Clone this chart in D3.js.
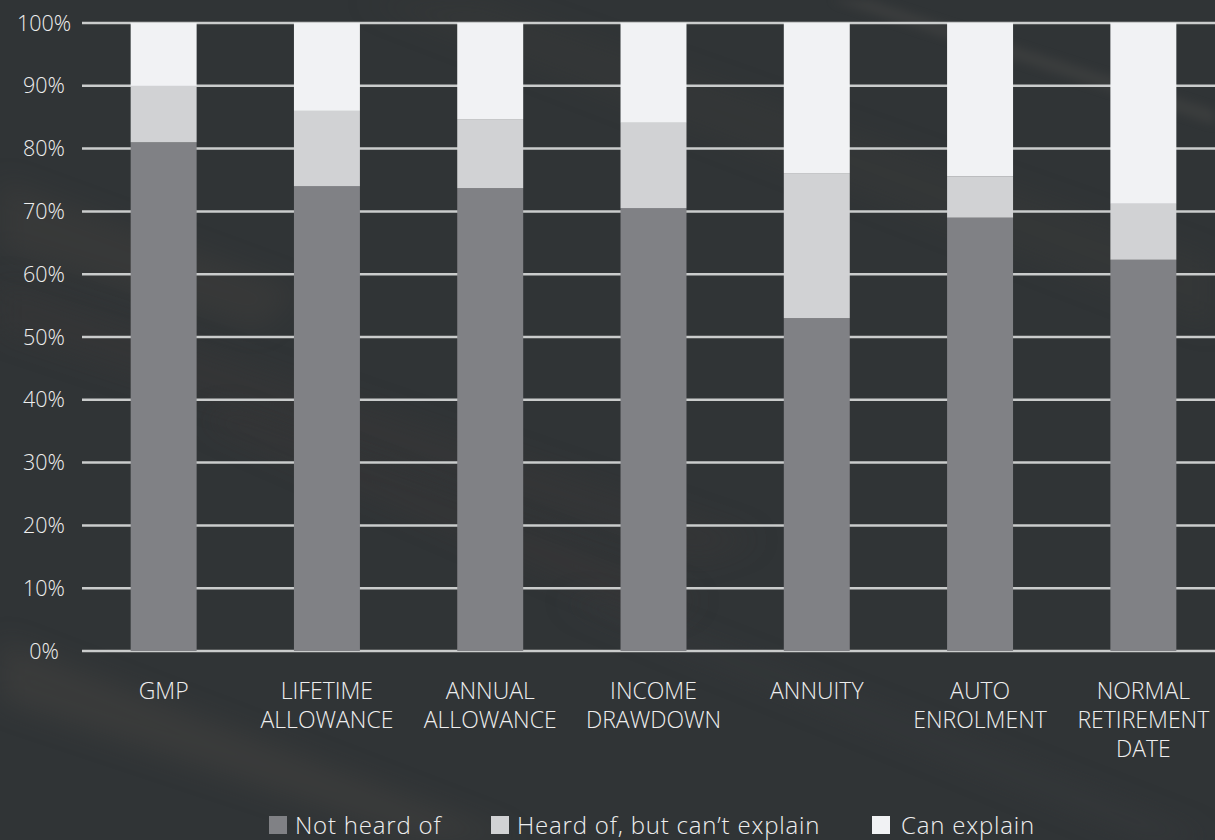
<!DOCTYPE html>
<html>
<head>
<meta charset="utf-8">
<script src="https://cdn.jsdelivr.net/npm/d3@7"></script>
<style>
  html, body { margin: 0; padding: 0; background: #303436; }
  svg { display: block; }
  text { font-family: "Open Sans", Lato, sans-serif; font-weight: 300; fill: #eeeeee; }
</style>
</head>
<body>
<svg id="chart" width="1215" height="840"></svg>
<script>
// Pension terms awareness, share of respondents (%)
const categories = [
  ["GMP"],
  ["LIFETIME", "ALLOWANCE"],
  ["ANNUAL", "ALLOWANCE"],
  ["INCOME", "DRAWDOWN"],
  ["ANNUITY"],
  ["AUTO", "ENROLMENT"],
  ["NORMAL", "RETIREMENT", "DATE"]
];
const notHeardOf       = [81, 74, 73.7, 70.5, 53, 69, 62.3];
const heardCantExplain = [9, 12, 11, 13.6, 23.1, 6.6, 8.9];
const canExplain       = [10, 14, 15.3, 15.9, 23.9, 24.4, 28.8];
const seriesNames = ["Not heard of", "Heard of, but can\u2019t explain", "Can explain"];
const yTicks = [0, 10, 20, 30, 40, 50, 60, 70, 80, 90, 100];

const W = 1215, H = 840;
const colors = ["#808185", "#d1d2d4", "#f1f2f4"];

const svg = d3.select("#chart");
const defs = svg.append("defs");
defs.append("filter").attr("id", "soft").attr("x", "-20%").attr("y", "-50%").attr("width", "140%").attr("height", "200%")
  .append("feGaussianBlur").attr("stdDeviation", 14);
defs.append("filter").attr("id", "soft2").attr("x", "-20%").attr("y", "-50%").attr("width", "140%").attr("height", "200%")
  .append("feGaussianBlur").attr("stdDeviation", 5);

// Background plate with faint diagonal streaks
const bg = svg.append("g");
bg.append("rect").attr("width", W).attr("height", H).attr("fill", "#303436");
const streaks = [
  { pts: [[0,180],[0,250],[260,330],[300,290]], c: "#4a4441", o: 0.3, f: "soft" },
  { pts: [[0,640],[0,700],[420,840],[520,840]], c: "#4d4845", o: 0.35, f: "soft" },
  { pts: [[0,280],[0,330],[700,560],[760,540]], c: "#3b3938", o: 0.4, f: "soft" },
  { pts: [[360,0],[480,0],[1215,260],[1215,330]], c: "#3d3c3b", o: 0.3, f: "soft" },
  { pts: [[830,0],[870,0],[1215,110],[1215,125]], c: "#55524f", o: 0.3, f: "soft2" },
  { pts: [[560,600],[600,600],[1215,840],[1150,840]], c: "#3a3d3f", o: 0.4, f: "soft" },
  { pts: [[200,420],[230,410],[700,600],[660,620]], c: "#3c3837", o: 0.4, f: "soft" }
];
bg.selectAll("path.streak").data(streaks).join("path")
  .attr("class", "streak")
  .attr("d", d => "M" + d.pts.map(p => p.join(",")).join("L") + "Z")
  .attr("fill", d => d.c).attr("opacity", d => d.o)
  .attr("filter", d => `url(#${d.f})`);

// Scales
const x = d3.scaleBand()
  .domain(d3.range(categories.length))
  .range([82, 1225])
  .paddingInner(0.596)
  .paddingOuter(0.298);
const y = d3.scaleLinear().domain([0, 100]).range([651, 23]);

// Gridlines
svg.append("g").selectAll("line").data(yTicks).join("line")
  .attr("x1", 82).attr("x2", W)
  .attr("y1", d => y(d)).attr("y2", d => y(d))
  .attr("stroke", "#cacccc").attr("stroke-width", 2.5);

// Y axis labels
svg.append("g").selectAll("text").data(yTicks).join("text")
  .attr("x", 44).attr("y", d => y(d))
  .attr("dy", "0.35em")
  .attr("text-anchor", "middle")
  .attr("font-size", 21.5)
  .text(d => d + "%");

// Stacked bars
const rows = categories.map((c, i) => ({ i, v0: notHeardOf[i], v1: heardCantExplain[i], v2: canExplain[i] }));
const stack = d3.stack().keys(["v0", "v1", "v2"])(rows);
svg.append("g").selectAll("g").data(stack).join("g")
  .attr("fill", (d, k) => colors[k])
  .selectAll("rect").data(d => d).join("rect")
  .attr("x", d => x(d.data.i))
  .attr("width", x.bandwidth())
  .attr("y", d => y(d[1]))
  .attr("height", d => y(d[0]) - y(d[1]));

// Category labels
const cat = svg.append("g").selectAll("text").data(categories).join("text")
  .attr("text-anchor", "middle")
  .attr("font-size", 23)
  .attr("x", (d, i) => x(i) + x.bandwidth() / 2)
  .attr("y", 699);
cat.selectAll("tspan").data(d => d).join("tspan")
  .attr("x", function () { return d3.select(this.parentNode).attr("x"); })
  .attr("dy", (d, j) => j === 0 ? 0 : 29)
  .text(d => d);

// Legend
const legendX = [269, 491, 872];
const lg = svg.append("g").selectAll("g").data(seriesNames).join("g")
  .attr("transform", (d, k) => `translate(${legendX[k]},816)`);
lg.append("rect").attr("width", 18).attr("height", 18).attr("fill", (d, k) => colors[k]);
lg.append("text").attr("x", (d, k) => k === 2 ? 29 : 26).attr("y", 18)
  .attr("font-size", 24)
  .attr("letter-spacing", 0.8)
  .text(d => d);
</script>
</body>
</html>
